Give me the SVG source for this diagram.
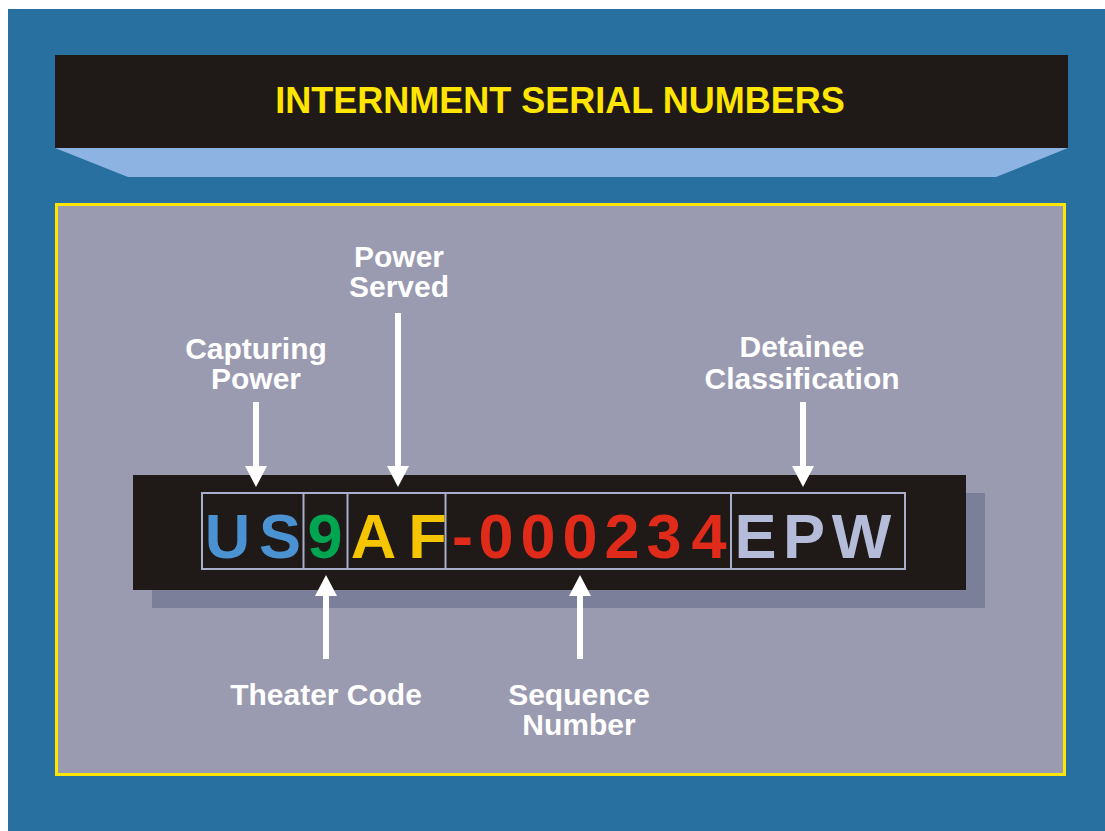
<svg xmlns="http://www.w3.org/2000/svg" width="1105" height="831" viewBox="0 0 1105 831">
<defs>
<style>
.lbl{font-family:"Liberation Sans",Arial,sans-serif;font-weight:bold;font-size:30px;fill:#ffffff;text-anchor:middle}
.ser{font-family:"Liberation Sans",Arial,sans-serif;font-weight:bold;font-size:63px;text-anchor:middle}
.arrow{stroke:#ffffff;stroke-width:6;fill:none;marker-end:url(#ah)}
</style>
<marker id="ah" viewBox="0 -11 21 22" refX="0" refY="0" markerWidth="21" markerHeight="22" markerUnits="userSpaceOnUse" orient="auto">
<path d="M0,-11 L21,0 L0,11 Z" fill="#ffffff"/>
</marker>
</defs>
<rect x="0" y="0" width="1105" height="831" fill="#ffffff"/>
<rect x="8" y="9" width="1097" height="822" fill="#2870A0"/>
<g id="title">
<polygon points="55,148 1068,148 996,177 128,177" fill="#8DB3E2"/>
<rect x="55" y="55" width="1013" height="93" fill="#1F1A17"/>
<text x="560" y="113" font-family="Liberation Sans,Arial,sans-serif" font-weight="bold" font-size="36" fill="#FFE500" text-anchor="middle">INTERNMENT SERIAL NUMBERS</text>
</g>
<g id="panel">
<rect x="56.5" y="204.5" width="1008" height="570" fill="#9A9AB0" stroke="#FFE600" stroke-width="3"/>
</g>
<g id="serial">
<rect x="152" y="493" width="833" height="115" fill="#7B7F9A"/>
<rect x="133" y="475" width="833" height="115" fill="#1F1A17"/>
<g fill="none" stroke="#A9AFCB" stroke-width="2">
<rect x="202" y="493" width="703" height="76"/>
<line x1="303.5" y1="493" x2="303.5" y2="569"/>
<line x1="347.5" y1="493" x2="347.5" y2="569"/>
<line x1="445.5" y1="493" x2="445.5" y2="569"/>
<line x1="731" y1="493" x2="731" y2="569"/>
</g>
<g class="ser" fill="#4A92D2"><text x="227.5" y="558">U</text><text x="280" y="558">S</text></g>
<g class="ser" fill="#00A551"><text x="325" y="558">9</text></g>
<g class="ser" fill="#F5C500"><text x="373.5" y="558">A</text><text x="427.5" y="558">F</text></g>
<g class="ser" fill="#E02A1A"><text x="462.5" y="558">-</text><text x="496" y="558">0</text><text x="538" y="558">0</text><text x="580" y="558">0</text><text x="622" y="558">2</text><text x="664" y="558">3</text><text x="709" y="558">4</text></g>
<g class="ser" fill="#B5BCD9"><text x="755.5" y="558">E</text><text x="804" y="558">P</text><text x="861.5" y="558">W</text></g>
</g>
<g id="label-capturing-power"><text class="lbl" x="256" y="359">Capturing</text><text class="lbl" x="256" y="389">Power</text></g>
<g id="label-power-served"><text class="lbl" x="399" y="267">Power</text><text class="lbl" x="399" y="297">Served</text></g>
<g id="label-detainee-classification"><text class="lbl" x="802" y="357">Detainee</text><text class="lbl" x="802" y="389">Classification</text></g>
<g id="label-theater-code"><text class="lbl" x="326" y="705">Theater Code</text></g>
<g id="label-sequence-number"><text class="lbl" x="579" y="705">Sequence</text><text class="lbl" x="579" y="735">Number</text></g>
<g id="connectors">
<line class="arrow" x1="256" y1="402" x2="256" y2="466"/>
<line class="arrow" x1="398" y1="313" x2="398" y2="466"/>
<line class="arrow" x1="803" y1="402" x2="803" y2="466"/>
<line class="arrow" x1="326" y1="659" x2="326" y2="596"/>
<line class="arrow" x1="580" y1="659" x2="580" y2="596"/>
</g>
</svg>
